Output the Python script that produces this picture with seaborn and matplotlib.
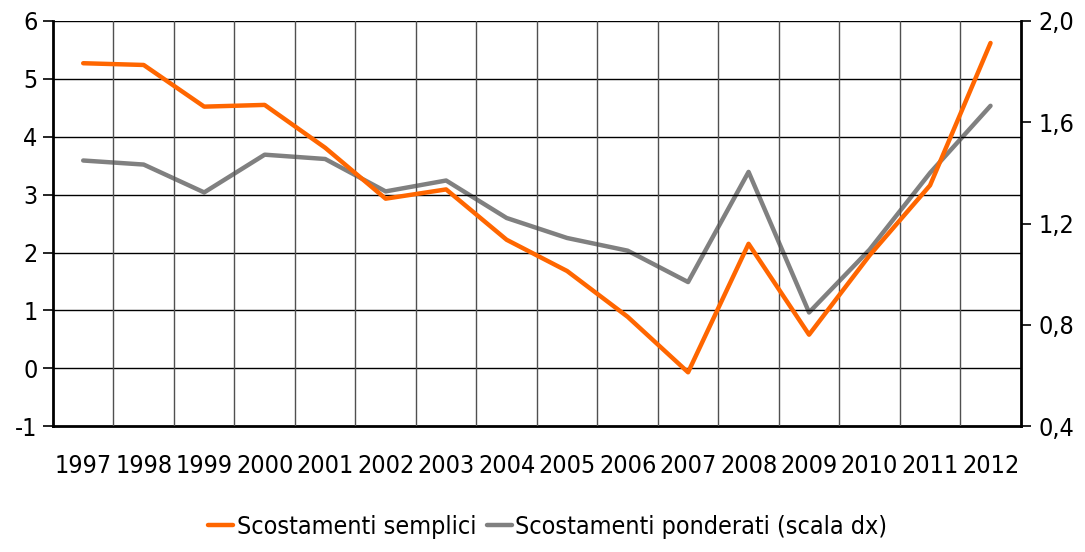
import numpy as np
import pandas as pd
import seaborn as sns
import matplotlib.pyplot as plt
from matplotlib.ticker import FixedLocator, FuncFormatter

years = [str(y) for y in range(1997, 2013)]
semplici = [5.27, 5.24, 4.52, 4.55, 3.81, 2.93, 3.09, 2.22, 1.68, 0.89, -0.07, 2.15, 0.58, 1.95, 3.16, 5.62]
ponderati = [1.449, 1.433, 1.323, 1.472, 1.455, 1.327, 1.370, 1.222, 1.143, 1.093, 0.969, 1.404, 0.849, 1.097, 1.400, 1.665]

left_ticks = [-1, 0, 1, 2, 3, 4, 5, 6]
right_ticks = [0.4, 0.8, 1.2, 1.6, 2.0]

ORANGE = "#FF6600"
GREY = "#808080"

sns.set_style("white")
plt.rcParams['font.family'] = ['DejaVu Sans']
plt.rcParams['font.stretch'] = 'condensed'
plt.rcParams['axes.unicode_minus'] = False
plt.rcParams['text.color'] = 'black'
plt.rcParams['xtick.color'] = 'black'
plt.rcParams['ytick.color'] = 'black'

df = pd.DataFrame({"year": years, "semplici": semplici, "ponderati": ponderati})
x = np.arange(len(years))
df["pos"] = x

fig = plt.figure(figsize=(10.85, 5.52), dpi=100)
ax = fig.add_axes([0.0488, 0.228, 0.892, 0.734])
ax2 = ax.twinx()

sns.lineplot(data=df, x="pos", y="semplici", ax=ax, color=ORANGE, lw=3.2,
             label="Scostamenti semplici", legend=False, zorder=4)
sns.lineplot(data=df, x="pos", y="ponderati", ax=ax2, color=GREY, lw=3.2,
             label="Scostamenti ponderati (scala dx)", legend=False, zorder=3)

ax.set_xlim(-0.5, len(years) - 0.5)
ax.set_ylim(-1, 6)
ax2.set_ylim(0.4, 2.0)
ax.set_yticks(left_ticks)
ax2.set_yticks(right_ticks)
ax2.yaxis.set_major_formatter(FuncFormatter(lambda v, p: f"{v:.1f}".replace(".", ",")))

ax.set_xticks(x)
ax.set_xticklabels(years)
ax.xaxis.set_minor_locator(FixedLocator(np.arange(-0.5, len(years), 1.0)))
ax.tick_params(axis="x", which="major", length=0, pad=20, labelsize=18)
ax.tick_params(axis="x", which="minor", length=7, width=1.2, color="black", direction="out")
ax.tick_params(axis="y", length=7, width=1.2, color="black", direction="out", labelsize=18, pad=4)
ax2.tick_params(axis="y", length=7, width=1.2, color="black", direction="out", labelsize=18, pad=6)

for v in left_ticks[1:]:
    ax.axhline(v, color="black", lw=1.0, zorder=1)
for b in np.arange(0.5, len(years) - 0.5, 1.0):
    ax.axvline(b, color="#505050", lw=1.0, zorder=1)

ax.set_xlabel("")
ax.set_ylabel("")
ax2.set_ylabel("")
for s in ["left", "bottom", "right"]:
    ax2.spines[s].set_linewidth(2.0)
    ax2.spines[s].set_color("black")
ax2.spines["top"].set_visible(False)
ax.spines["top"].set_visible(False)
for s in ["left", "bottom", "right"]:
    ax.spines[s].set_visible(False)

ax.set_zorder(ax2.get_zorder() + 1)
ax.patch.set_visible(False)

h1, l1 = ax.get_legend_handles_labels()
h2, l2 = ax2.get_legend_handles_labels()
fig.legend(h1 + h2, l1 + l2, loc="center", bbox_to_anchor=(0.505, 0.045), ncol=2,
           frameon=False, fontsize=18, handlelength=1.0, handletextpad=0.15, columnspacing=0.4)

fig.savefig("out.png", dpi=100)
